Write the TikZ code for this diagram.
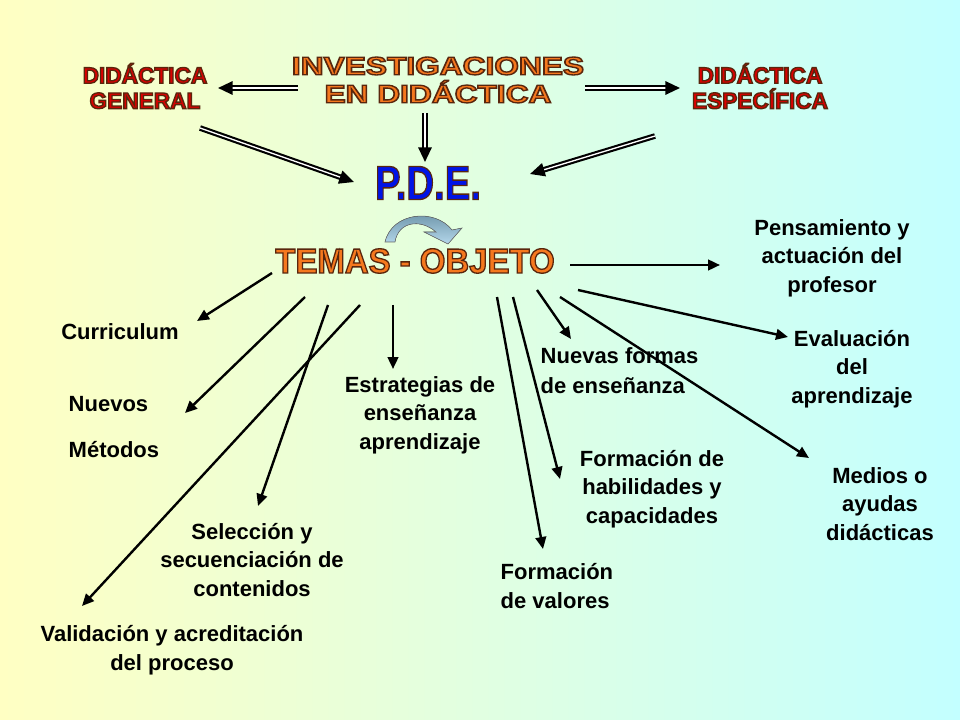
\documentclass[tikz,border=0pt]{standalone}
\usepackage{fontspec}
\setmainfont{Liberation Sans}
\usetikzlibrary{arrows.meta}

% outlined (WordArt like) text: fill colour given by \color, stroke by RG
\newcommand{\outlined}[2]{\special{pdf:code 2 Tr 1 w 0.35 0.15 0.05 RG}#2\special{pdf:code 0 Tr}}

\begin{document}
\begin{tikzpicture}[x=0.75pt,y=-0.75pt,
  txt/.style={font=\bfseries\fontsize{16.5}{21.5}\selectfont,align=center,text=black},
  big/.style={font=\bfseries\fontsize{17}{19}\selectfont,align=center},
  arr/.style={-{Triangle[length=9pt,width=8pt]},line width=1.8pt},
  dbl/.style={-{Triangle[length=11pt,width=10pt]},line width=1.6pt,double=white,double distance=1pt}]
\useasboundingbox (0,0) rectangle (960,720);
\shade[shading angle=150,left color={rgb,255:red,255;green,255;blue,195},right color={rgb,255:red,195;green,255;blue,255}] (0,0) rectangle (960,720);

% titles
\node[big,text={rgb,255:red,220;green,0;blue,0}] (dg) at (145,86) {\outlined{}{DIDÁCTICA}\\\outlined{}{GENERAL}};
\node[big,text={rgb,255:red,220;green,0;blue,0}] (de) at (760,86) {\outlined{}{DIDÁCTICA}\\\outlined{}{ESPECÍFICA}};
\node[big,font=\bfseries\fontsize{19}{21}\selectfont,text={rgb,255:red,245;green,120;blue,30},xscale=1.25] (inv) at (438,80) {\outlined{}{INVESTIGACIONES}\\\outlined{}{EN DIDÁCTICA}};
\node[font=\bfseries\fontsize{36}{36}\selectfont,text={rgb,255:red,0;green,20;blue,230},xscale=0.8] (pde) at (428,183) {\outlined{}{P.D.E.}};
\node[font=\bfseries\fontsize{26}{26}\selectfont,text={rgb,255:red,245;green,120;blue,30},xscale=0.95] (temas) at (415,261) {\outlined{}{TEMAS - OBJETO}};
\fill[top color={rgb,255:red,100;green,140;blue,160},bottom color={rgb,255:red,180;green,215;blue,235},draw=black!60,line width=0.4pt]
  (385,242) .. controls (392,212) and (435,208) .. (452,230) -- (462,228) -- (448,244) -- (424,232) -- (436,232)
  .. controls (420,218) and (398,222) .. (395,242) -- cycle;

% topics
\node[txt] (pens) at (832,258) {Pensamiento y\\actuación del\\profesor};
\node[txt] (curr) at (120,332) {Curriculum};
\node[txt,align=left,font=\bfseries\fontsize{16.5}{34}\selectfont,anchor=west] (nuev) at (64,427) {Nuevos\\ Métodos};
\node[txt] (estr) at (420,415) {Estrategias de\\enseñanza\\aprendizaje};
\node[txt,align=left,font=\bfseries\fontsize{16.5}{22.5}\selectfont,anchor=west] (form) at (536,371) {Nuevas formas\\de enseñanza};
\node[txt] (eval) at (852,369) {Evaluación\\del\\aprendizaje};
\node[txt] (habi) at (652,489) {Formación de\\habilidades y\\capacidades};
\node[txt] (medi) at (880,504) {Medios o\\ayudas\\didácticas};
\node[txt] (sele) at (252,560) {Selección y\\secuenciación de\\contenidos};
\node[txt,align=left,anchor=west] (valo) at (496,586) {Formación\\de valores};
\node[txt] (vali) at (172,650) {Validación y acreditación\\del proceso};

% arrow ends
\coordinate (a1) at (298,88);  \coordinate (b1) at (218,88);
\coordinate (a2) at (585,88);  \coordinate (b2) at (680,88);
\coordinate (a3) at (425,113); \coordinate (b3) at (425,162);
\coordinate (a4) at (200,128); \coordinate (b4) at (354,182);
\coordinate (a5) at (655,136); \coordinate (b5) at (530,174);
\coordinate (t0) at (570,265); \coordinate (e0) at (720,265);
\coordinate (t1) at (272,273); \coordinate (e1) at (197,321);
\coordinate (t2) at (305,297); \coordinate (e2) at (185,413);
\coordinate (t3) at (328,305); \coordinate (e3) at (258,506);
\coordinate (t4) at (360,305); \coordinate (e4) at (82,606);
\coordinate (t5) at (393,305); \coordinate (e5) at (393,369);
\coordinate (t6) at (497,297); \coordinate (e6) at (543,549);
\coordinate (t7) at (513,297); \coordinate (e7) at (560,479);
\coordinate (t8) at (537,290); \coordinate (e8) at (571,339);
\coordinate (t9) at (560,297); \coordinate (e9) at (809,458);
\coordinate (t10) at (578,290); \coordinate (e10) at (788,337);

\foreach \s/\e in {a1/b1,a2/b2,a3/b3,a4/b4,a5/b5}
  \draw[dbl] (\s) -- (\e);
\foreach \s/\e in {t0/e0,t1/e1,t2/e2,t3/e3,t4/e4,t5/e5,t6/e6,t7/e7,t8/e8,t9/e9,t10/e10}
  \draw[arr] (\s) -- (\e);
\end{tikzpicture}
\end{document}
